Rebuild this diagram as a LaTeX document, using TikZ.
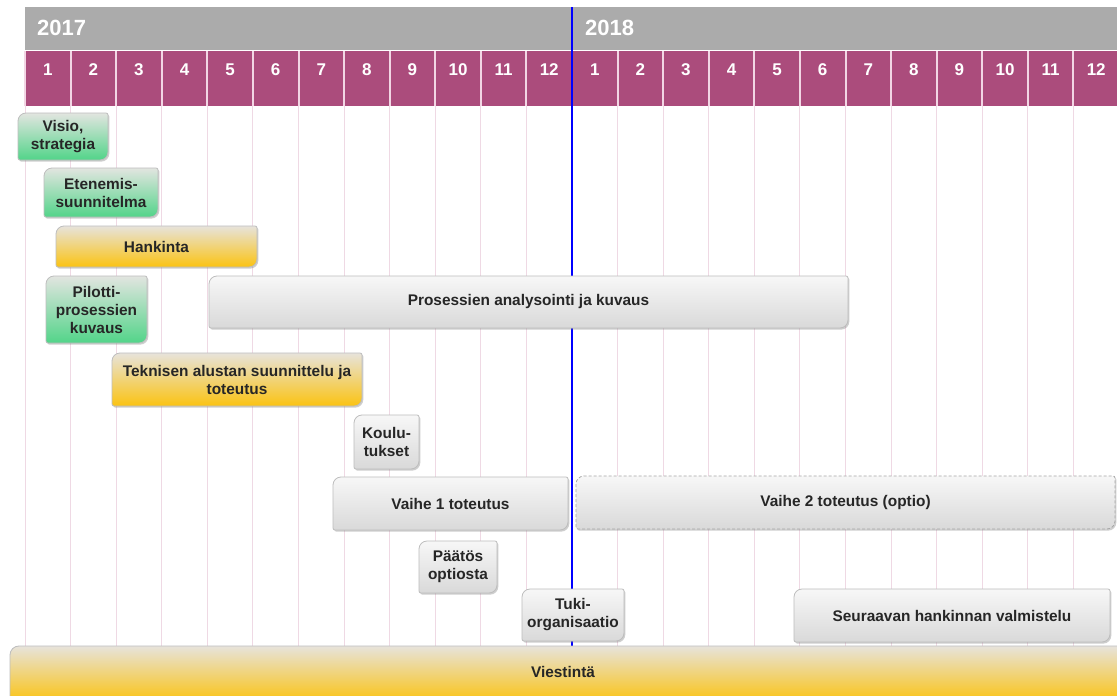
\documentclass[tikz,border=0pt]{standalone}
\usepackage{fontspec}
\setmainfont{Liberation Sans}
\usetikzlibrary{shadows}
\definecolor{hdrgray}{HTML}{ABABAB}
\definecolor{mpurple}{HTML}{AB4C7C}
\definecolor{msep}{HTML}{F2D6E4}
\definecolor{gridpink}{HTML}{EFD9E4}
\definecolor{txt}{HTML}{262626}
\definecolor{boxedge}{HTML}{BDBDBD}
\definecolor{graytop}{HTML}{F7F7F7}
\definecolor{graybot}{HTML}{D9D9D9}
\definecolor{greentop}{HTML}{E2E5E0}
\definecolor{greenbot}{HTML}{52D489}
\definecolor{yeltop}{HTML}{E7E3DB}
\definecolor{yelbot}{HTML}{FBC312}
\definecolor{todayblue}{HTML}{0000FF}
\newcommand\taskbox[7]{%
  \path[#6] (#2,#5-2) -- (#2,#3+8) .. controls (#2,#3+3.6) and (#2+3.6,#3) .. (#2+8,#3)
    -- (#4-2,#3) .. controls (#4-0.9,#3) and (#4,#3+0.9) .. (#4,#3+2)
    -- (#4,#5-8) .. controls (#4,#5-3.6) and (#4-3.6,#5) .. (#4-8,#5)
    -- (#2+2,#5) .. controls (#2+0.9,#5) and (#2,#5-0.9) .. (#2,#5-2) -- cycle;
  \node[tasktext] (#1) at ({(#2+#4)/2},{(#3+#5)/2}) {#7};
}
\begin{document}
\begin{tikzpicture}[x=1pt,y=-1pt,
  tasktext/.style={align=center, text=txt, inner sep=0pt,
    font=\fontsize{15.4}{18}\selectfont\bfseries},
  boxbase/.style={draw=boxedge, line width=0.8pt,
    drop shadow={shadow xshift=1.3pt, shadow yshift=-1.6pt, opacity=0.35, fill=black!55}},
  graybox/.style={boxbase, top color=graytop, bottom color=graybot},
  greenbox/.style={boxbase, top color=greentop, bottom color=greenbot},
  yellowbox/.style={boxbase, top color=yeltop, bottom color=yelbot},
  optionbox/.style={graybox, draw=black!35, dash pattern=on 3pt off 2pt},
  yeartext/.style={text=white, inner sep=0pt, font=\fontsize{22}{24}\selectfont\bfseries},
  monthtext/.style={text=white, inner sep=0pt, font=\fontsize{17}{19}\selectfont\bfseries},
]
\useasboundingbox (0,0) rectangle (1117,696);
\fill[white] (0,0) rectangle (1117,696);
% header
\fill[hdrgray] (25,7) rectangle (1117,50);
\fill[mpurple] (25,51) rectangle (1117,106);
\foreach \i in {0,...,24} {
  \pgfmathsetmacro\xx{25+45.583*\i}
  \draw[msep, line width=2pt] (\xx,51) -- (\xx,106);
  \draw[gridpink, line width=1pt] (\xx,106) -- (\xx,646);
}
\node[yeartext, anchor=west] (y2017) at (37,28) {2017};
\node[yeartext, anchor=west] (y2018) at (585,28) {2018};
\foreach \i in {1,...,24} {
  \pgfmathsetmacro\xc{25+45.583*(\i-0.5)}
  \pgfmathtruncatemacro\m{mod(\i-1,12)+1}
  \node[monthtext] (m\i) at (\xc,70) {\m};
}
% today line
\coordinate (todaytop) at (572,7);
\coordinate (todaybot) at (572,647);
\draw[todayblue, line width=2.8pt] (todaytop) -- (todaybot);
% tasks
\taskbox{visio}{18}{113}{108}{160}{greenbox}{Visio,\\strategia}
\taskbox{etenemis}{44}{168}{158}{217}{greenbox}{Etenemis-\\suunnitelma}
\taskbox{hankinta}{56}{226}{257}{267}{yellowbox}{Hankinta}
\taskbox{pilotti}{46}{276}{147}{343}{greenbox}{Pilotti-\\prosessien\\kuvaus}
\taskbox{prosessit}{209}{276}{848}{328}{graybox}{Prosessien analysointi ja kuvaus}
\taskbox{tekninen}{112}{353}{362}{406}{yellowbox}{Teknisen alustan suunnittelu ja\\toteutus}
\taskbox{koulutus}{354}{415}{419}{469}{graybox}{Koulu-\\tukset}
\taskbox{vaihe1}{333}{477}{568}{530}{graybox}{Vaihe 1 toteutus}
\taskbox{vaihe2}{576}{476}{1115}{529}{optionbox}{Vaihe 2 toteutus (optio)}
\taskbox{paatos}{419}{541}{497}{593}{graybox}{Päätös\\optiosta}
\taskbox{tuki}{522}{589}{624}{641}{graybox}{Tuki-\\organisaatio}
\taskbox{seuraava}{794}{589}{1110}{642}{graybox}{Seuraavan hankinnan valmistelu}
% communication bar
\path[draw=boxedge, line width=0.8pt, top color=yeltop, bottom color=yelbot]
  (10,702) -- (10,655) .. controls (10,650) and (14,646) .. (19,646) -- (1125,646) -- (1125,702) -- cycle;
\node[tasktext] (viestinta) at (563,672) {Viestintä};
\end{tikzpicture}
\end{document}
